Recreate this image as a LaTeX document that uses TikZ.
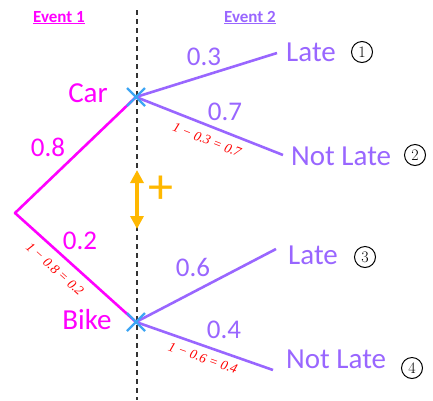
\documentclass[tikz,border=0pt]{standalone}
\usepackage{fontspec}
\setmainfont{Carlito}
\newfontfamily\calcfont{Liberation Serif}
\usetikzlibrary{arrows.meta,calc}
\definecolor{evone}{RGB}{255,0,255}
\definecolor{evtwo}{RGB}{153,102,255}
\definecolor{crossblue}{RGB}{61,165,244}
\definecolor{plusorange}{RGB}{255,184,0}
\definecolor{calcred}{RGB}{255,0,0}
\tikzset{
  stageone/.style={evone, line width=2.6pt},
  stagetwo/.style={evtwo, line width=2.6pt},
  crossmark/.style={crossblue, line width=2.2pt},
  outcome/.style={evtwo, font=\fontsize{29}{29}\selectfont, anchor=base west, inner sep=0pt},
  choice/.style={evone, font=\fontsize{29}{29}\selectfont, inner sep=0pt},
  prob1/.style={evone, font=\fontsize{27}{27}\selectfont, inner sep=0pt},
  prob2/.style={evtwo, font=\fontsize{27}{27}\selectfont, inner sep=0pt},
  calc/.style={calcred, font=\calcfont\itshape\fontsize{13.5}{13.5}\selectfont, inner sep=0pt},
  caseno/.style={circle, draw=black, line width=1pt, inner sep=0pt, minimum size=21pt,
    font=\fontfamily{lmr}\fontsize{16}{16}\selectfont},
  head/.style={font=\bfseries\fontsize{17}{17}\selectfont, inner sep=0pt, anchor=base}
}
\begin{document}
\begin{tikzpicture}[x=1pt,y=-1pt]
\useasboundingbox (0,0) rectangle (433,400);

% stage divider
\draw[black!80, line width=1.4pt, dash pattern=on 5pt off 4pt] (137,10) -- (137,400);

% headings
\node[head, evone] (h1) at (59,22) {\underline{Event 1}};
\node[head, evtwo] (h2) at (250,22) {\underline{Event 2}};

% branch points
\coordinate (root) at (15,213);
\coordinate (car) at (136,97);
\coordinate (bike) at (136,322);
\coordinate (e1) at (277,53);
\coordinate (e2) at (283,155);
\coordinate (e3) at (276,249);
\coordinate (e4) at (273,370);

% first stage
\draw[stageone, line join=round] (car) -- (root) -- (bike);

% second stage
\draw[stagetwo] (car) -- (e1);
\draw[stagetwo] (car) -- (e2);
\draw[stagetwo] (bike) -- (e3);
\draw[stagetwo] (bike) -- (e4);

% crosses at the branch points
\foreach \p in {car,bike}{
  \draw[crossmark] ($(\p)+(-9,-9)$) -- ($(\p)+(9,9)$);
  \draw[crossmark] ($(\p)+(-9,9)$) -- ($(\p)+(9,-9)$);
}

% outcome labels
\node[choice] (carlbl) at (88,93) {Car};
\node[choice] (bikelbl) at (87,320) {Bike};
\node[outcome] (o1) at (286,61) {Late};
\node[outcome] (o2) at (291,165) {Not Late};
\node[outcome] (o3) at (288,264) {Late};
\node[outcome] (o4) at (286,368) {Not Late};
\node[caseno] (n1) at (362,52) {1};
\node[caseno] (n2) at (415,155) {2};
\node[caseno] (n3) at (365,257) {3};
\node[caseno] (n4) at (412,368) {4};

% probabilities
\node[prob1] (p1) at (48,147) {0.8};
\node[prob1] (p2) at (80,241) {0.2};
\node[prob2] (p3) at (204,57) {0.3};
\node[prob2] (p4) at (225,112) {0.7};
\node[prob2] (p5) at (193,267) {0.6};
\node[prob2] (p6) at (224,330) {0.4};

% complement calculations
\node[calc, rotate=-21.5] (c1) at (207,140) {1 − 0.3 = 0.7};
\node[calc, rotate=-42] (c2) at (55,269) {1 − 0.8 = 0.2};
\node[calc, rotate=-19.5] (c3) at (203,358) {1 − 0.6 = 0.4};

% addition of the two cases
\coordinate (ta) at (137,170);
\coordinate (tb) at (137,229);
\draw[plusorange, line width=3.5pt, {Triangle[length=13pt,width=13pt]}-{Triangle[length=13pt,width=13pt]}] (ta) -- (tb);
\node[plusorange, font=\fontsize{50}{50}\selectfont, inner sep=0pt] (plus) at (161,190) {+};
\end{tikzpicture}
\end{document}
